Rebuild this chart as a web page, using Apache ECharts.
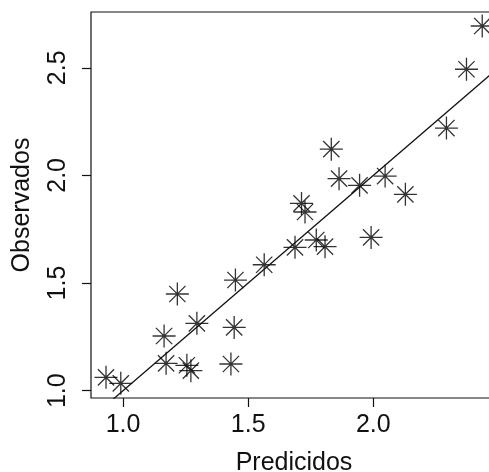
<!DOCTYPE html>
<html>
<head>
<meta charset="utf-8">
<script src="https://cdn.jsdelivr.net/npm/echarts@6/dist/echarts.min.js"></script>
<style>
  html, body { margin: 0; padding: 0; background: #fff; }
  #chart { width: 489px; height: 472px; }
</style>
</head>
<body>
<div id="chart"></div>
<script>
  var predicidos = [0.932, 0.991, 1.164, 1.172, 1.217, 1.255, 1.271, 1.295, 1.431, 1.444, 1.449,
    1.564, 1.687, 1.713, 1.727, 1.772, 1.807, 1.832, 1.863, 1.945, 1.991, 2.047, 2.128,
    2.292, 2.372, 2.435]
  var observados = [1.062, 1.034, 1.254, 1.127, 1.449, 1.118, 1.093, 1.313, 1.124, 1.294, 1.514,
    1.585, 1.666, 1.870, 1.830, 1.700, 1.669, 2.122, 1.985, 1.954, 1.712, 1.997, 1.912,
    2.220, 2.493, 2.694]
  // reference line y = x
  var lineX = [0.8, 2.6]
  var lineY = [0.8, 2.6]
  var xTicks = [1.0, 1.5, 2.0]
  var yTicks = [1.0, 1.5, 2.0, 2.5]

  var ink = '#111'
  var font = 'Liberation Sans'
  var star = 'path://M0,-10L0,10M-10,0L10,0M-7.07,-7.07L7.07,7.07M-7.07,7.07L7.07,-7.07'

  var points = predicidos.map(function (x, i) { return [x, observados[i]] })
  var line = lineX.map(function (x, i) { return [x, lineY[i]] })

  var chart = echarts.init(document.getElementById('chart'))
  chart.setOption({
    animation: false,
    backgroundColor: '#fff',
    grid: {
      left: 91,
      right: -8,
      top: 12,
      bottom: 74,
      outerBoundsMode: 'none',
      containLabel: false,
      show: true,
      borderColor: ink,
      borderWidth: 1.2
    },
    xAxis: {
      type: 'value',
      min: 0.872,
      max: 2.494,
      name: 'Predicidos',
      nameLocation: 'middle',
      nameGap: 53,
      nameTextStyle: { fontFamily: font, fontSize: 25, color: ink },
      axisLine: { show: false },
      splitLine: { show: false },
      axisTick: {
        show: true, length: 9, customValues: xTicks,
        lineStyle: { color: ink, width: 1.2 }
      },
      axisLabel: {
        customValues: xTicks,
        margin: 15,
        fontFamily: font, fontSize: 25, color: ink,
        formatter: function (v) { return v.toFixed(1) }
      }
    },
    yAxis: {
      type: 'value',
      min: 0.966,
      max: 2.759,
      name: 'Observados',
      nameLocation: 'middle',
      nameGap: 56,
      nameTextStyle: { fontFamily: font, fontSize: 25, color: ink },
      axisLine: { show: false },
      splitLine: { show: false },
      axisTick: {
        show: true, length: 9, customValues: yTicks,
        lineStyle: { color: ink, width: 1.2 }
      },
      axisLabel: {
        customValues: yTicks,
        rotate: 90,
        margin: 20,
        fontFamily: font, fontSize: 25, color: ink,
        formatter: function (v) { return v.toFixed(1) }
      }
    },
    series: [
      {
        type: 'line',
        data: line,
        symbol: 'none',
        clip: true,
        lineStyle: { color: ink, width: 1.3 }
      },
      {
        type: 'scatter',
        data: points,
        symbol: star,
        symbolSize: 23,
        clip: false,
        itemStyle: { color: 'none', borderColor: '#000', borderWidth: 1.3 }
      }
    ]
  })
</script>
</body>
</html>
